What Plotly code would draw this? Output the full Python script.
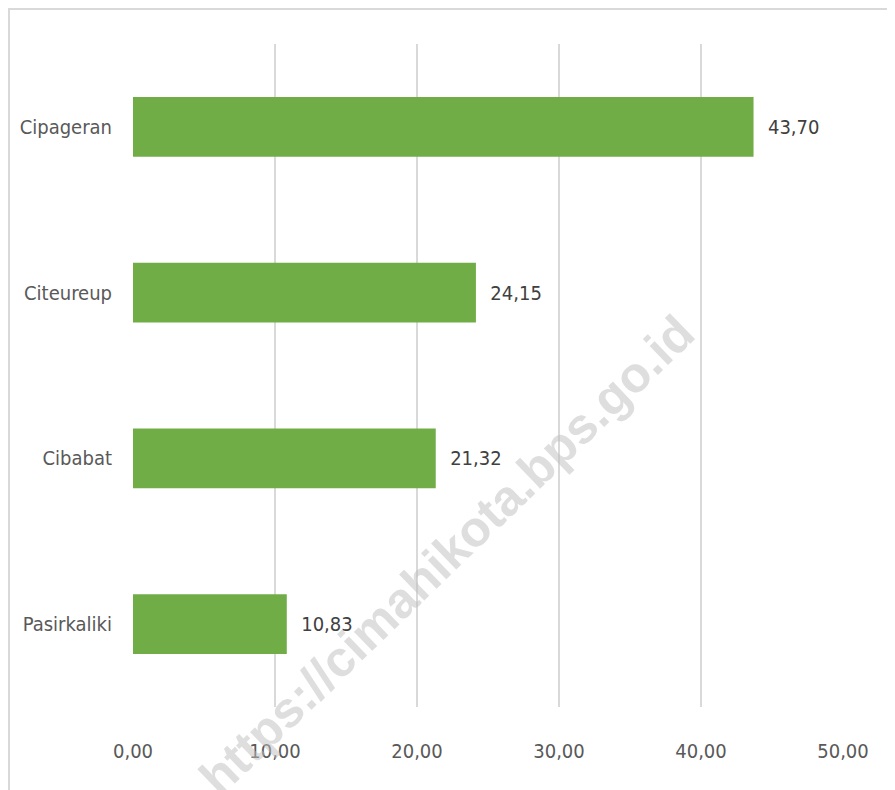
import plotly.graph_objects as go

categories = ["Cipageran", "Citeureup", "Cibabat", "Pasirkaliki"]
values = [43.70, 24.15, 21.32, 10.83]
tick_values = [0, 10, 20, 30, 40, 50]

FONT = "DejaVu Sans Condensed, Liberation Sans Narrow, sans-serif"
FS = 20

# page body adds an 8px offset, so the figure is sized to fill the window
W, H = 887, 782
L, R, T, B = 125, 52, 36, 83
PW, PH = W - L - R, H - T - B

fig = go.Figure(
    go.Bar(
        x=values,
        y=categories,
        orientation="h",
        marker=dict(color="#70AD47", line=dict(width=0)),
        width=0.36,
        texttemplate="  %{x:.2f}",
        textposition="outside",
        textfont=dict(family=FONT, size=FS, color="#404040"),
        cliponaxis=False,
    )
)

fig.update_layout(
    width=W,
    height=H,
    separators=",.",
    paper_bgcolor="white",
    plot_bgcolor="white",
    margin=dict(l=L, r=R, t=T, b=B, autoexpand=False),
    showlegend=False,
    font=dict(family=FONT, size=FS, color="#595959"),
    xaxis=dict(
        range=[0, 50],
        tickvals=tick_values,
        tickformat=".2f",
        showgrid=True,
        gridcolor="#D9D9D9",
        gridwidth=1.5,
        zeroline=False,
        showline=False,
        ticks="",
        automargin=False,
        ticklabelstandoff=30,
        tickfont=dict(family=FONT, size=FS, color="#595959"),
    ),
    yaxis=dict(
        categoryorder="array",
        categoryarray=categories[::-1],
        showgrid=False,
        zeroline=False,
        showline=False,
        ticks="",
        automargin=False,
        ticklabelstandoff=20,
        tickfont=dict(family=FONT, size=FS, color="#595959"),
    ),
    shapes=[
        dict(
            type="rect",
            xref="paper",
            yref="paper",
            x0=(1 - L) / PW,
            x1=(W + 10 - L) / PW,
            y0=-(B + 10) / PH,
            y1=(T - 1) / PH + 1,
            line=dict(color="#D9D9D9", width=2),
            fillcolor="rgba(0,0,0,0)",
            layer="below",
        )
    ],
    annotations=[
        dict(
            text="https://cimahikota.bps.go.id",
            xref="paper",
            yref="paper",
            x=(439 - L) / PW,
            y=(T + PH - 547) / PH,
            xanchor="center",
            yanchor="middle",
            showarrow=False,
            textangle=-44,
            font=dict(family="Liberation Sans, Arial, sans-serif", size=50,
                      color="rgba(190,190,190,0.5)", weight="bold"),
        )
    ],
)

fig.write_html("out.html")
